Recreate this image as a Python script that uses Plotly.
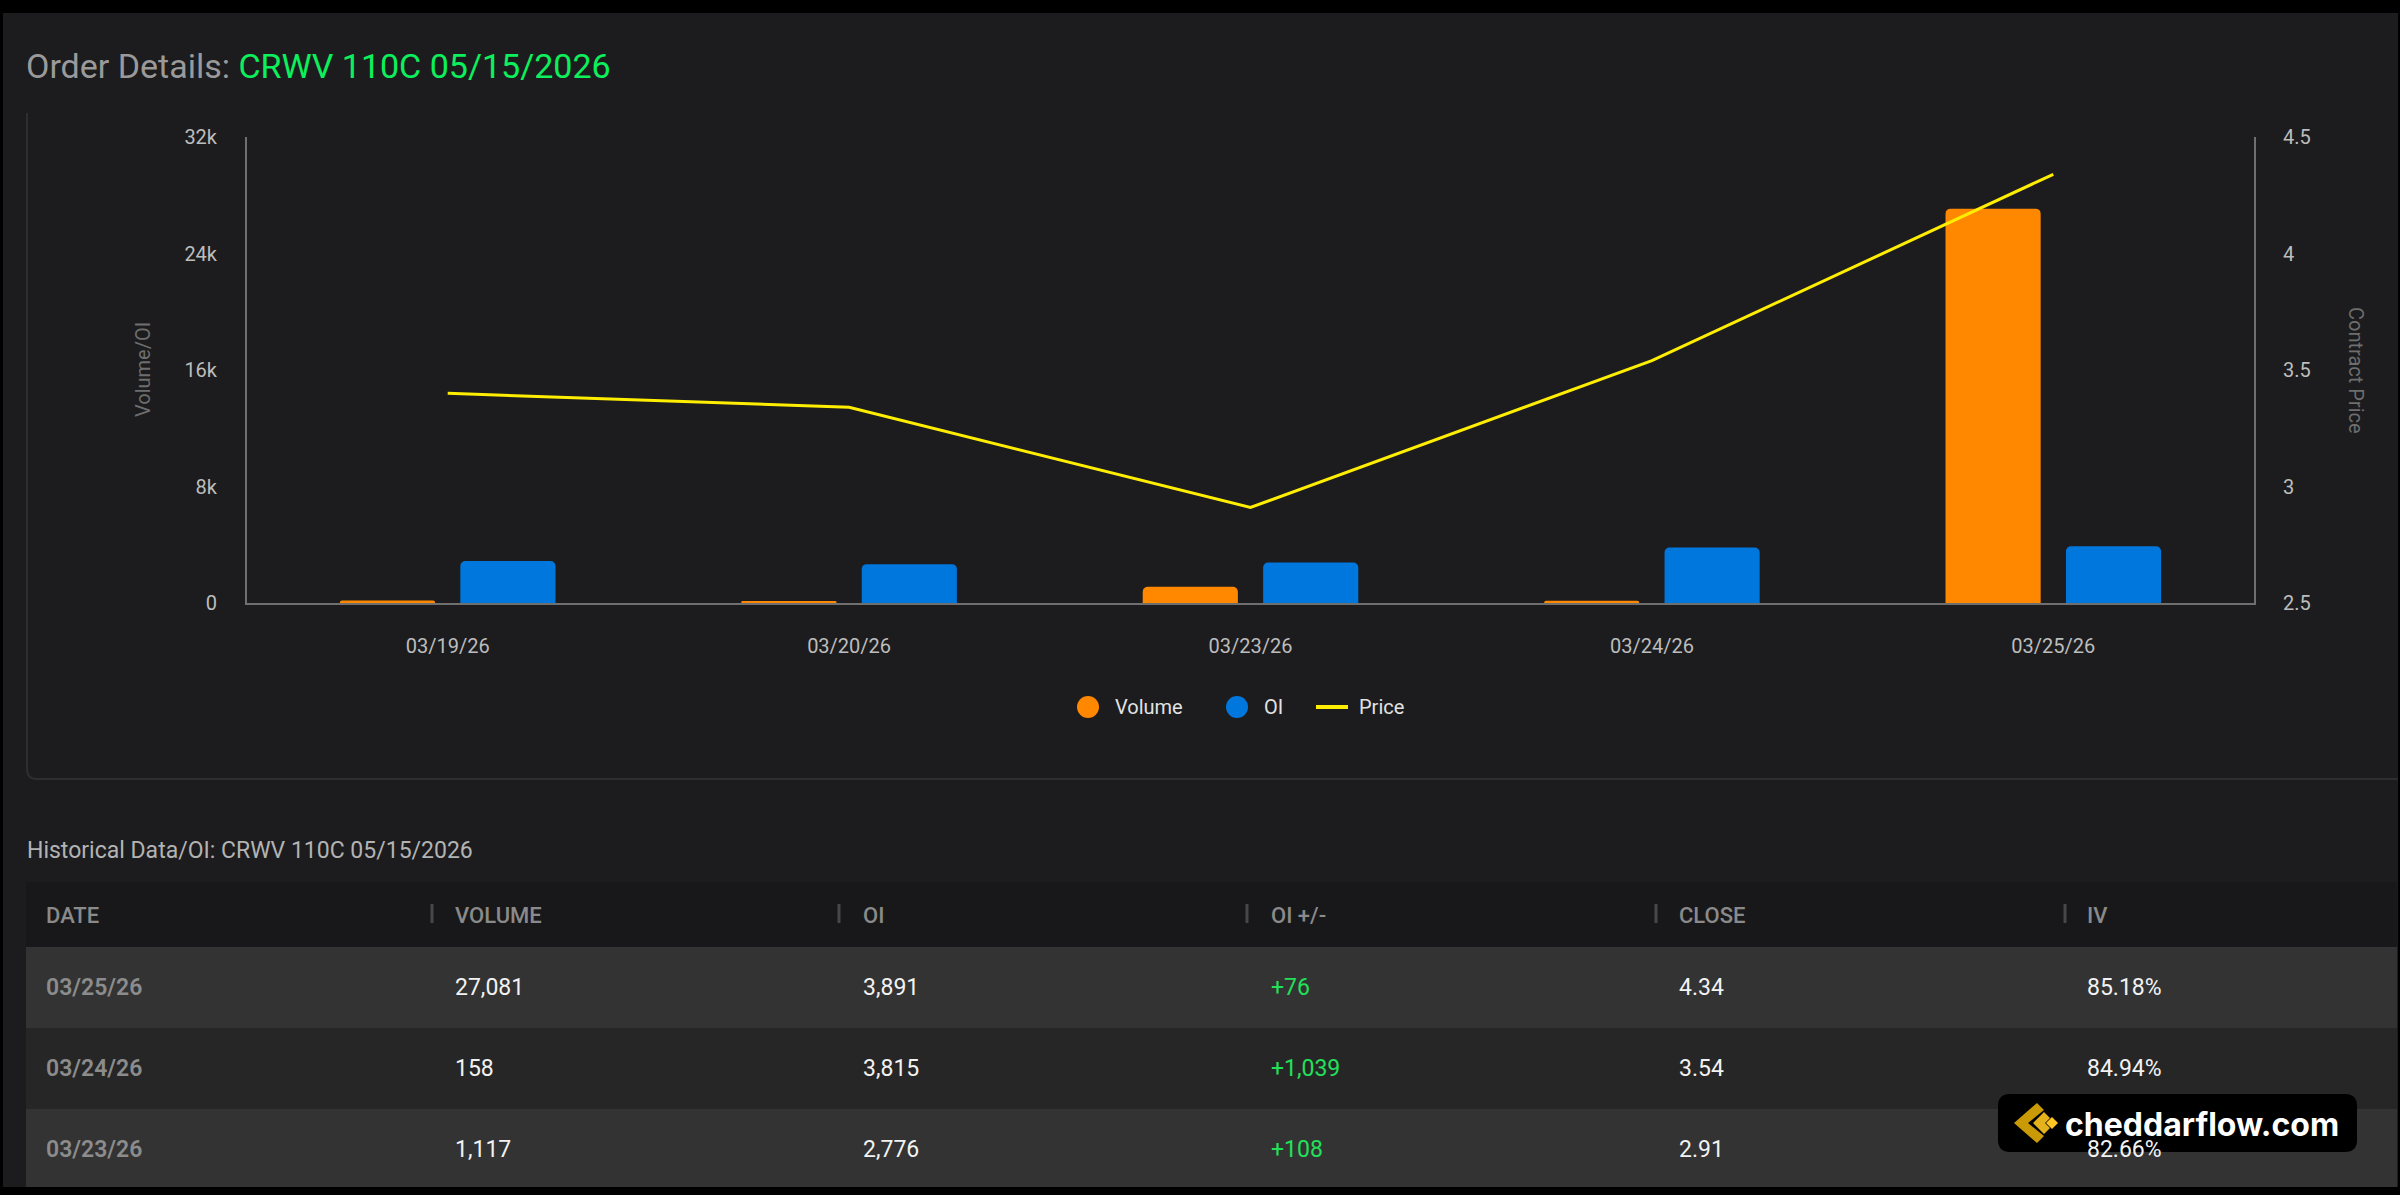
import plotly.graph_objects as go

# ---------------- data ----------------
dates = ["03/19/26", "03/20/26", "03/23/26", "03/24/26", "03/25/26"]
volume = [180, 130, 1117, 158, 27081]
open_interest = [2884, 2668, 2776, 3815, 3891]
price = [3.40, 3.34, 2.91, 3.54, 4.34]

vol_ticks = [0, 8000, 16000, 24000, 32000]
vol_ticktext = ["0", "8k", "16k", "24k", "32k"]
price_ticks = [2.5, 3, 3.5, 4, 4.5]
price_ticktext = ["2.5", "3", "3.5", "4", "4.5"]

table_columns = ["DATE", "VOLUME", "OI", "OI +/-", "CLOSE", "IV"]
table_dates = ["03/25/26", "03/24/26", "03/23/26"]
table_iv = [85.18, 84.94, 82.66]

# ---------------- helpers ----------------
W, H = 2400, 1195
BG = "#1c1c1e"
FONT = "Roboto"


def px(x):
    return x / W


def py(y):
    return 1 - y / H


fig = go.Figure()

fig.add_trace(go.Bar(x=dates, y=volume, name="Volume", marker_color="#FF8800",
                     marker_line_width=0, yaxis="y", showlegend=False))
fig.add_trace(go.Bar(x=dates, y=open_interest, name="OI", marker_color="#0077DD",
                     marker_line_width=0, yaxis="y", showlegend=False))
fig.add_trace(go.Scatter(x=dates, y=price, name="Price", mode="lines",
                         line=dict(color="#FFEE00", width=3), yaxis="y2",
                         showlegend=False))

axis_col = "#6f6f6f"
tick_font = dict(family=FONT, size=20, color="#bdbdbd")

shapes = []
annotations = []

# page chrome
shapes.append(dict(type="rect", xref="paper", yref="paper", x0=0, x1=1, y0=py(13), y1=1,
                   fillcolor="#000000", line_width=0, layer="below"))
shapes.append(dict(type="rect", xref="paper", yref="paper", x0=0, x1=1, y0=0, y1=py(1187),
                   fillcolor="#000000", line_width=0, layer="below"))
shapes.append(dict(type="rect", xref="paper", yref="paper", x0=px(2398), x1=1, y0=0, y1=1,
                   fillcolor="#000000", line_width=0, layer="below"))
shapes.append(dict(type="rect", xref="paper", yref="paper", x0=0, x1=px(3), y0=0, y1=1,
                   fillcolor="#000000", line_width=0, layer="below"))

# chart panel border (left + bottom with rounded corner)
path = (f"M {px(27)},{py(113)} L {px(27)},{py(769)} "
        f"Q {px(27)},{py(779)} {px(37)},{py(779)} L {px(2398)},{py(779)}")
shapes.append(dict(type="path", xref="paper", yref="paper", path=path,
                   line=dict(color="#2e2e30", width=2), layer="below"))

# title
annotations.append(dict(
    xref="paper", yref="paper", x=px(24), y=py(66), xanchor="left", yanchor="middle",
    showarrow=False,
    text="<span style='color:#9a9a9a'>Order Details: </span>"
         "<span style='color:#0bf05c'>CRWV 110C 05/15/2026</span>",
    font=dict(family=FONT, size=34)))

# axis titles
annotations.append(dict(xref="paper", yref="paper", x=px(143), y=py(370), textangle=-90,
                        showarrow=False, text="Volume/OI", xanchor="center", yanchor="middle",
                        font=dict(family=FONT, size=20, color="#6e6e6e")))
annotations.append(dict(xref="paper", yref="paper", x=px(2356), y=py(370), textangle=90,
                        showarrow=False, text="Contract Price", xanchor="center", yanchor="middle",
                        font=dict(family=FONT, size=20, color="#6e6e6e")))

# manual legend
legend_items = [("Volume", "#FF8800", "circle", 1088, 1113),
                ("OI", "#0077DD", "circle", 1237, 1262),
                ("Price", "#FFEE00", "line", 1332, 1357)]
ly = 707
for name, col, kind, cx, tx in legend_items:
    if kind == "circle":
        r = 11
        shapes.append(dict(type="circle", xref="paper", yref="paper",
                           x0=px(cx - r), x1=px(cx + r), y0=py(ly + r), y1=py(ly - r),
                           fillcolor=col, line_width=0))
    else:
        shapes.append(dict(type="line", xref="paper", yref="paper",
                           x0=px(cx - 16), x1=px(cx + 16), y0=py(ly), y1=py(ly),
                           line=dict(color=col, width=4)))
    annotations.append(dict(xref="paper", yref="paper", x=px(tx), y=py(ly), xanchor="left",
                            yanchor="middle", showarrow=False, text=name,
                            font=dict(family=FONT, size=20, color="#e2e2e2")))

# ---------------- table ----------------
annotations.append(dict(xref="paper", yref="paper", x=px(25), y=py(850), xanchor="left",
                        yanchor="middle", showarrow=False,
                        text="Historical Data/OI: CRWV 110C 05/15/2026",
                        font=dict(family=FONT, size=23, color="#b3b3b3")))

tbl_left, tbl_right = 26, 2397
header_top, header_bot = 882, 947
row_h = 81
col_text_x = [44, 453, 861, 1269, 1677, 2085]
sep_x = [432, 839, 1247, 1656, 2065]

shapes.append(dict(type="rect", xref="paper", yref="paper", x0=px(tbl_left), x1=px(tbl_right),
                   y0=py(header_bot), y1=py(header_top), fillcolor="#18181a", line_width=0,
                   layer="below"))
for i, c in enumerate(table_columns):
    annotations.append(dict(xref="paper", yref="paper", x=px(col_text_x[i]), y=py(915),
                            xanchor="left", yanchor="middle", showarrow=False, text=c,
                            font=dict(family=FONT, size=22, color="#8a8a8a", weight=500)))
for sx in sep_x:
    shapes.append(dict(type="line", xref="paper", yref="paper", x0=px(sx), x1=px(sx),
                       y0=py(904), y1=py(923), line=dict(color="#474747", width=3)))

row_fills = ["#333333", "#262626", "#333333"]
for r, d in enumerate(table_dates):
    idx = dates.index(d)
    top = header_bot + r * row_h
    bot = min(top + row_h, 1187)
    shapes.append(dict(type="rect", xref="paper", yref="paper", x0=px(tbl_left), x1=px(tbl_right),
                       y0=py(bot), y1=py(top), fillcolor=row_fills[r], line_width=0,
                       layer="below"))
    chg = open_interest[idx] - open_interest[idx - 1]
    vals = [
        (d, "#8c8c8c", 600),
        (f"{volume[idx]:,}", "#f2f2f2", 400),
        (f"{open_interest[idx]:,}", "#f2f2f2", 400),
        (f"{'+' if chg >= 0 else '-'}{abs(chg):,}", "#22e05a" if chg >= 0 else "#ff4444", 400),
        (f"{price[idx]:.2f}", "#f2f2f2", 400),
        (f"{table_iv[r]:.2f}%", "#f2f2f2", 400),
    ]
    yc = top + 40
    for ci, (txt, col, wt) in enumerate(vals):
        annotations.append(dict(xref="paper", yref="paper", x=px(col_text_x[ci]), y=py(yc),
                                xanchor="left", yanchor="middle", showarrow=False, text=txt,
                                font=dict(family=FONT, size=23, color=col, weight=wt)))

# ---------------- watermark badge ----------------
bx0, bx1, by0, by1, rr = 1998, 2357, 1094, 1152, 12
badge = (f"M {px(bx0+rr)},{py(by0)} L {px(bx1-rr)},{py(by0)} Q {px(bx1)},{py(by0)} {px(bx1)},{py(by0+rr)} "
         f"L {px(bx1)},{py(by1-rr)} Q {px(bx1)},{py(by1)} {px(bx1-rr)},{py(by1)} "
         f"L {px(bx0+rr)},{py(by1)} Q {px(bx0)},{py(by1)} {px(bx0)},{py(by1-rr)} "
         f"L {px(bx0)},{py(by0+rr)} Q {px(bx0)},{py(by0)} {px(bx0+rr)},{py(by0)} Z")
badge_shapes = [dict(type="path", xref="paper", yref="paper", path=badge,
                     fillcolor="#000000", line_width=0, layer="above")]


def poly(pts):
    return "M " + " L ".join(f"{px(x)},{py(y)}" for x, y in pts) + " Z"


badge_shapes.append(dict(type="path", xref="paper", yref="paper", layer="above", line_width=0,
                         fillcolor="#c99a06",
                         path=poly([(2037, 1103), (2014, 1123), (2037, 1143), (2044, 1136),
                                    (2028, 1123), (2044, 1110)])))
badge_shapes.append(dict(type="path", xref="paper", yref="paper", layer="above", line_width=0,
                         fillcolor="#e6b21c",
                         path=poly([(2044, 1112), (2033, 1123), (2044, 1134), (2050, 1128),
                                    (2045, 1123), (2050, 1118)])))
badge_shapes.append(dict(type="path", xref="paper", yref="paper", layer="above", line_width=0,
                         fillcolor="#ffc623",
                         path=poly([(2052, 1117), (2058, 1123), (2052, 1129), (2046, 1123)])))
shapes.extend(badge_shapes)
annotations.append(dict(xref="paper", yref="paper", x=px(2063), y=py(1124), xanchor="left",
                        yanchor="middle", showarrow=False, text="<b>cheddarflow.com</b>",
                        font=dict(family="Inter", size=32, color="#ffffff")))

fig.update_layout(
    width=W, height=H, autosize=False,
    margin=dict(l=0, r=0, t=0, b=0, pad=0, autoexpand=False),
    paper_bgcolor=BG, plot_bgcolor="rgba(0,0,0,0)",
    font=dict(family=FONT, color="#bdbdbd"),
    barmode="group", bargap=0.40, bargroupgap=0.21,
    barcornerradius=5,
    showlegend=False,
    xaxis=dict(domain=[px(247), px(2254)], type="category", showgrid=False, zeroline=False,
               showline=True, linecolor=axis_col, linewidth=2, ticks="", automargin=False,
               ticklabelstandoff=24, tickfont=tick_font, anchor="y", fixedrange=True),
    yaxis=dict(domain=[py(603), py(137)], range=[0, 32000], tickvals=vol_ticks,
               ticktext=vol_ticktext, showgrid=False, zeroline=False, showline=True,
               linecolor=axis_col, linewidth=2, ticks="", ticklabelstandoff=24,
               automargin=False, tickfont=tick_font, anchor="x"),
    yaxis2=dict(domain=[py(603), py(137)], range=[2.5, 4.5], tickvals=price_ticks,
                ticktext=price_ticktext, overlaying="y", side="right", anchor="x",
                showgrid=False, zeroline=False, showline=True, linecolor=axis_col,
                linewidth=2, ticks="", ticklabelstandoff=23, automargin=False,
                tickfont=tick_font),
    shapes=shapes,
    annotations=annotations,
)

fig.write_html("out.html")
